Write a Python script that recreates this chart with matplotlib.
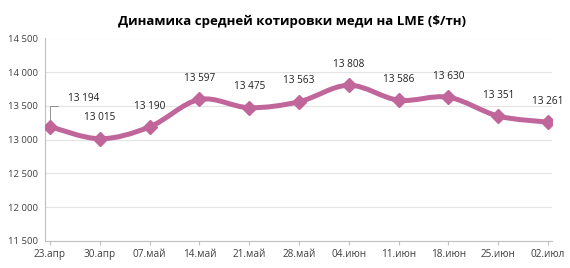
import matplotlib
matplotlib.use("Agg")
import matplotlib.pyplot as plt
from matplotlib.path import Path
from matplotlib.patches import PathPatch
from matplotlib.ticker import FuncFormatter, MultipleLocator
import numpy as np

categories = ["23.апр", "30.апр", "07.май", "14.май", "21.май", "28.май",
              "04.июн", "11.июн", "18.июн", "25.июн", "02.июл"]
values = [13194, 13015, 13190, 13597, 13475, 13563, 13808, 13586, 13630, 13351, 13261]
title = "Динамика средней котировки меди на LME ($/тн)"

W, H = 570, 268
fig = plt.figure(figsize=(W / 100, H / 100), dpi=100)
ax = fig.add_axes([45 / W, 1 - 241 / H, (552 - 45) / W, (241 - 38.5) / H])

font = "Open Sans"
color = "#C0669B"
x = np.arange(len(values))
y = np.array(values, dtype=float)

ax.set_xlim(-0.1, 10.08)
ax.set_ylim(11500, 14500)

# smoothed line via Catmull-Rom Bezier segments (rendering only)
verts = [(x[0], y[0])]
codes = [Path.MOVETO]
n = len(x)
for i in range(n - 1):
    p0 = (x[i - 1], y[i - 1]) if i > 0 else (x[i], y[i])
    p1 = (x[i], y[i])
    p2 = (x[i + 1], y[i + 1])
    p3 = (x[i + 2], y[i + 2]) if i + 2 < n else (x[i + 1], y[i + 1])
    t = 1 / 6
    c1 = (p1[0] + (p2[0] - p0[0]) * t, p1[1] + (p2[1] - p0[1]) * t)
    c2 = (p2[0] - (p3[0] - p1[0]) * t, p2[1] - (p3[1] - p1[1]) * t)
    verts += [c1, c2, p2]
    codes += [Path.CURVE4] * 3
ax.add_patch(PathPatch(Path(verts, codes), fill=False, edgecolor=color,
                       lw=3.6, capstyle="round", joinstyle="round", zorder=3))
ax.plot(x, y, ls="none", marker="D", ms=7, color=color, mec=color, zorder=4)

ax.yaxis.set_major_locator(MultipleLocator(500))
ax.yaxis.set_major_formatter(FuncFormatter(lambda v, p: f"{int(v):,}".replace(",", " ")))
ax.set_xticks(x)
ax.set_xticklabels(categories)
ax.grid(axis="y", color="#E3E3E3", lw=0.8)
ax.set_axisbelow(True)
for s in ["top", "right"]:
    ax.spines[s].set_visible(False)
for s in ["left", "bottom"]:
    ax.spines[s].set_color("#BFBFBF")
    ax.spines[s].set_linewidth(0.8)
ax.tick_params(axis="y", length=0, pad=5, labelsize=6.8, labelcolor="#404040")
ax.tick_params(axis="x", length=3, color="#BFBFBF", pad=3, labelsize=7.2, labelcolor="#404040")
for lab in ax.get_xticklabels() + ax.get_yticklabels():
    lab.set_fontfamily(font)

for i, (xi, yi) in enumerate(zip(x, y)):
    lab = f"{int(yi):,}".replace(",", " ")
    if i == 0:
        ax.annotate(lab, (xi, yi), xytext=(24, 20), textcoords="offset points",
                    ha="center", va="center", fontsize=7.2, family=font, color="#202020")
        ax.annotate("", (xi, yi), xytext=(8, 15), textcoords="offset points",
                    arrowprops=dict(arrowstyle="-", color="#808080", lw=0.6,
                                    connectionstyle="angle,angleA=0,angleB=90,rad=0"))
    else:
        ax.annotate(lab, (xi, yi), xytext=(0, 15), textcoords="offset points",
                    ha="center", va="center", fontsize=7.2, family=font, color="#202020")

fig.text(292 / W, 1 - 21 / H, title, ha="center", va="center", fontsize=9.5,
         fontweight="bold", family=font, color="#000000")

fig.savefig("out.png", dpi=100)
